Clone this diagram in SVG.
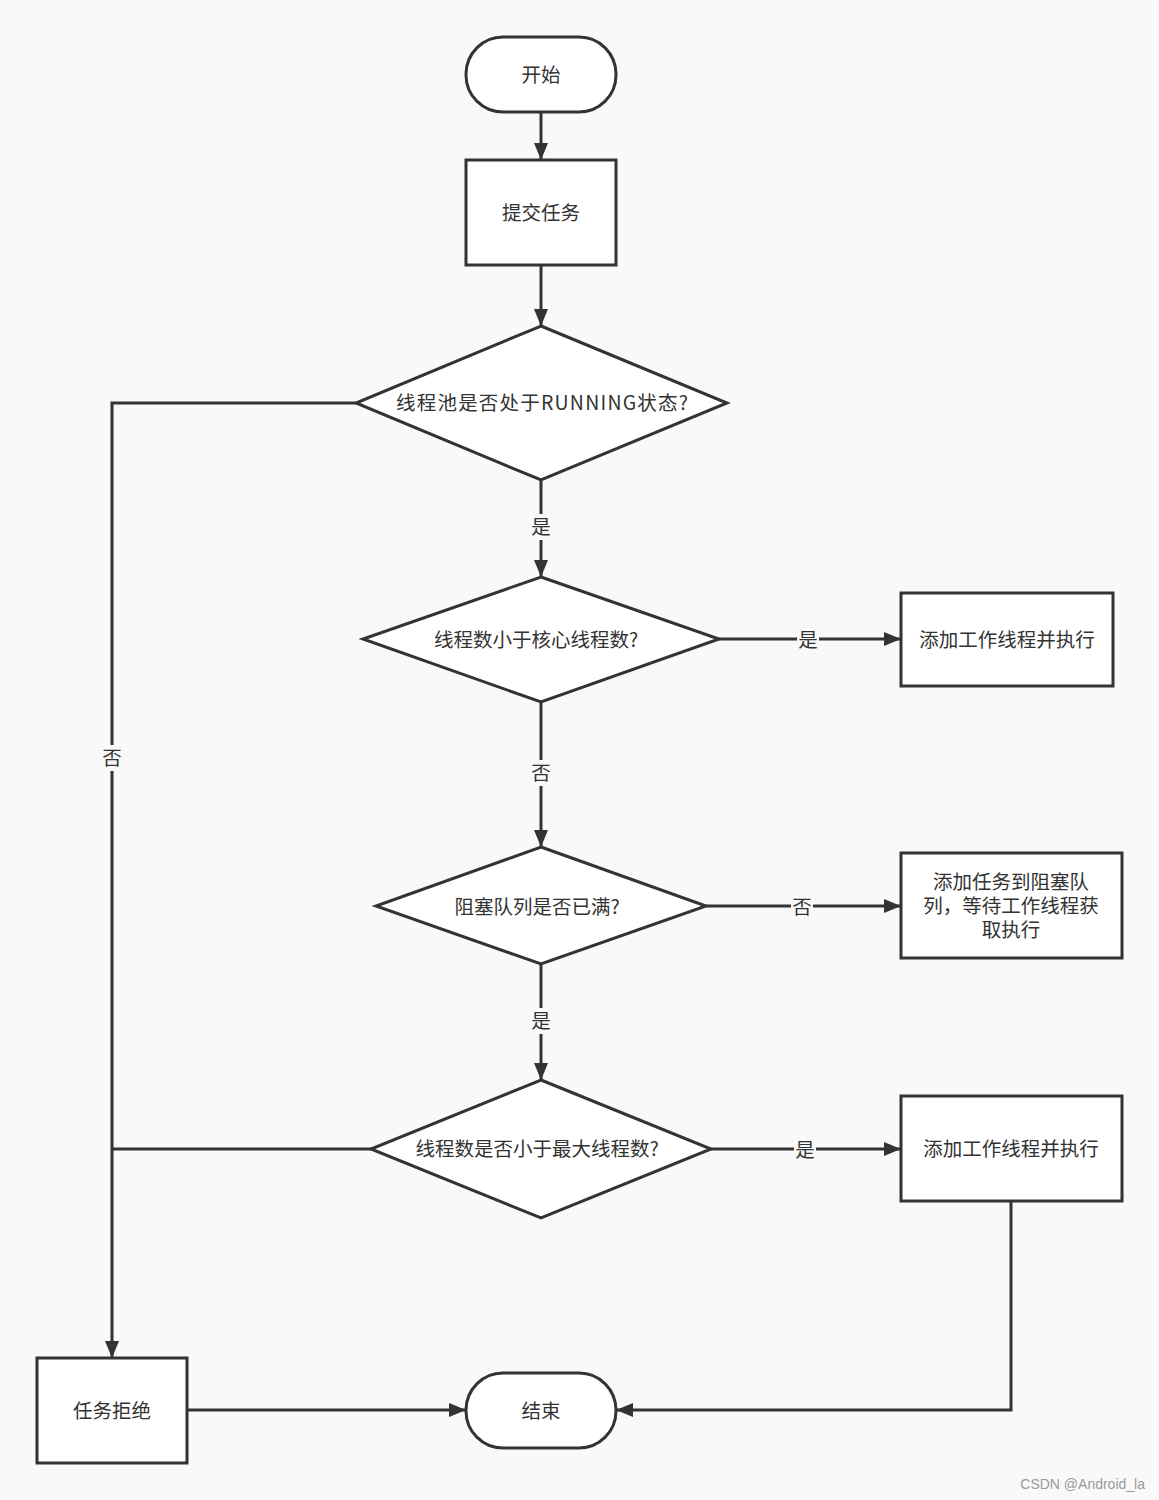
<svg xmlns="http://www.w3.org/2000/svg" width="1159" height="1500" viewBox="0 0 1159 1500">
<style>
.s{fill:#ffffff;stroke:#333333;stroke-width:3}
.t{font-family:"Noto Sans CJK SC","Noto Sans",sans-serif;font-size:19.5px;fill:#333333;text-anchor:middle;dominant-baseline:central}
.c{fill:none;stroke:#333333;stroke-width:3}
.lb{fill:#f9f9f9}
</style>
<defs>
<marker id="a" viewBox="0 0 17 14" refX="17" refY="7" markerWidth="17" markerHeight="14" markerUnits="userSpaceOnUse" orient="auto">
<path d="M0,0 L17,7 L0,14 Z" fill="#333333"/>
</marker>
</defs>
<rect width="1159" height="1500" fill="#f9f9f9"/>
<g id="connectors">
<path class="c" d="M541,112 V160" marker-end="url(#a)"/>
<path class="c" d="M541,265 V326" marker-end="url(#a)"/>
<path class="c" d="M541,480 V577" marker-end="url(#a)"/>
<path class="c" d="M719,639 H901" marker-end="url(#a)"/>
<path class="c" d="M541,702 V847" marker-end="url(#a)"/>
<path class="c" d="M706,906 H901" marker-end="url(#a)"/>
<path class="c" d="M541,964 V1080" marker-end="url(#a)"/>
<path class="c" d="M711,1149 H901" marker-end="url(#a)"/>
<path class="c" d="M356,403 H112 V1358" marker-end="url(#a)"/>
<path class="c" d="M371,1149 H112"/>
<path class="c" d="M187,1410 H466" marker-end="url(#a)"/>
<path class="c" d="M1011,1201 V1410 H616" marker-end="url(#a)"/>
<rect class="lb" x="530" y="514" width="22" height="26"/>
<text class="t" x="541" y="525">是</text>
<rect class="lb" x="797" y="627" width="22" height="26"/>
<text class="t" x="808" y="638">是</text>
<rect class="lb" x="530" y="760" width="22" height="26"/>
<text class="t" x="541" y="771">否</text>
<rect class="lb" x="791" y="894" width="22" height="26"/>
<text class="t" x="802" y="905">否</text>
<rect class="lb" x="530" y="1008" width="22" height="26"/>
<text class="t" x="541" y="1019">是</text>
<rect class="lb" x="794" y="1137" width="22" height="26"/>
<text class="t" x="805" y="1148">是</text>
<rect class="lb" x="101" y="745" width="22" height="26"/>
<text class="t" x="112" y="756">否</text>
</g>
<g id="start">
<rect class="s" x="466" y="37" width="150" height="75" rx="37" ry="37"/>
<text class="t" x="541" y="73">开始</text>
</g>
<g id="submit">
<rect class="s" x="466" y="160" width="150" height="105"/>
<text class="t" x="541" y="211">提交任务</text>
</g>
<g id="d1">
<polygon class="s" points="541,326 727,403 541,480 356,403"/>
<text class="t" x="542" y="401" textLength="292" lengthAdjust="spacing">线程池是否处于RUNNING状态?</text>
</g>
<g id="d2">
<polygon class="s" points="541,577 719,639 541,702 363,639"/>
<text class="t" x="536" y="638">线程数小于核心线程数?</text>
</g>
<g id="box1">
<rect class="s" x="901" y="593" width="212" height="93"/>
<text class="t" x="1007" y="638">添加工作线程并执行</text>
</g>
<g id="d3">
<polygon class="s" points="541,847 706,906 541,964 376,906"/>
<text class="t" x="537" y="905">阻塞队列是否已满?</text>
</g>
<g id="box2">
<rect class="s" x="901" y="853" width="221" height="105"/>
<text class="t" x="1011" y="880">添加任务到阻塞队</text>
<text class="t" x="1011" y="904">列，等待工作线程获</text>
<text class="t" x="1011" y="928">取执行</text>
</g>
<g id="d4">
<polygon class="s" points="541,1080 711,1149 541,1218 371,1149"/>
<text class="t" x="537" y="1147">线程数是否小于最大线程数?</text>
</g>
<g id="box3">
<rect class="s" x="901" y="1096" width="221" height="105"/>
<text class="t" x="1011" y="1147">添加工作线程并执行</text>
</g>
<g id="reject">
<rect class="s" x="37" y="1358" width="150" height="105"/>
<text class="t" x="112" y="1409">任务拒绝</text>
</g>
<g id="end">
<rect class="s" x="466" y="1373" width="150" height="75" rx="37" ry="37"/>
<text class="t" x="541" y="1409">结束</text>
</g>
<text x="1145" y="1484" font-family="'Liberation Sans',Arial,sans-serif" font-size="14" fill="#999999" text-anchor="end" dominant-baseline="central">CSDN @Android_la</text>
</svg>
